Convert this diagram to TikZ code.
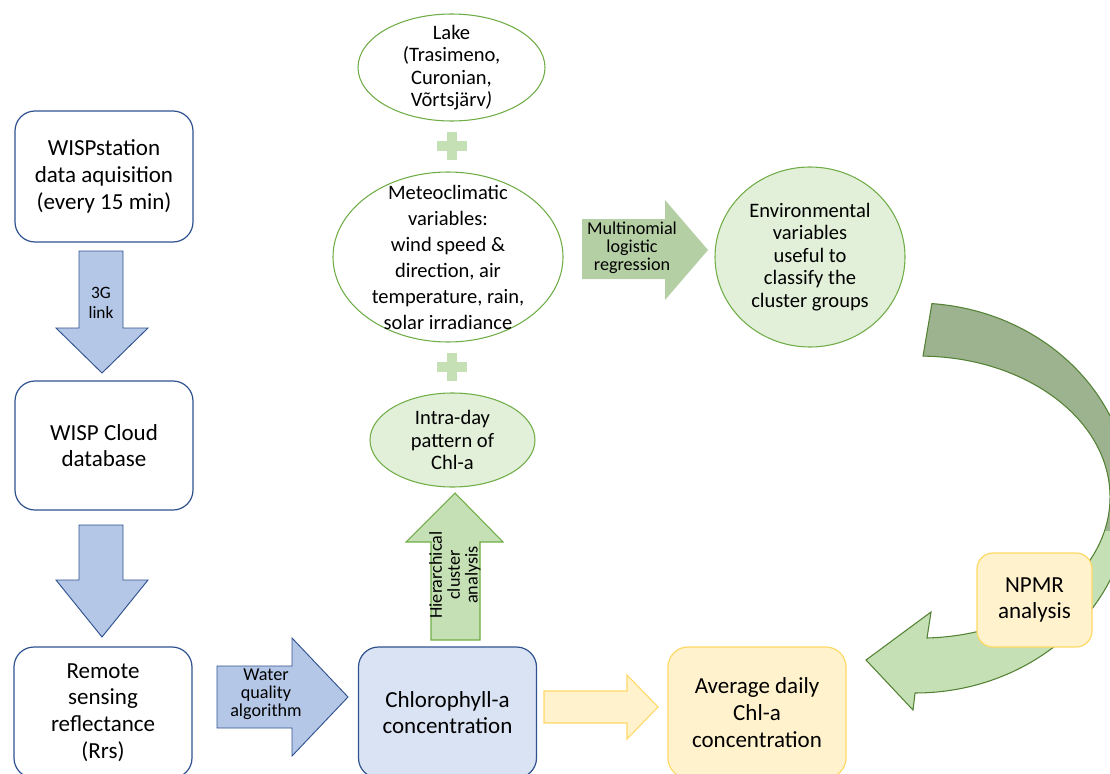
\documentclass[tikz,border=0pt]{standalone}
\usepackage{fontspec}
\setmainfont{Carlito}
\usetikzlibrary{positioning, shapes.geometric}
\definecolor{boxblue}{HTML}{2F528F}
\definecolor{arrblue}{HTML}{B4C7E7}
\definecolor{chlfill}{HTML}{DAE3F3}
\definecolor{grnline}{HTML}{70AD47}
\definecolor{grnfill}{HTML}{E2F0D9}
\definecolor{grnarr}{HTML}{C5E0B4}
\definecolor{grnmid}{HTML}{B5CFA5}
\definecolor{grndark}{HTML}{9DB38F}
\definecolor{grnedge}{HTML}{548235}
\definecolor{yelfill}{HTML}{FFF2CC}
\definecolor{yelline}{HTML}{FFD966}

\newcommand{\tightls}[2]{\fontsize{#1}{#2}\selectfont\lineskiplimit=-100pt\relax}

% curved NPMR arrow, in pixel units
\def\bendpath{(931.9,303.6) arc[start angle=-85.5, end angle=90, x radius=215, y radius=195]
  -- (913,710) -- (866,660) -- (931,612) -- (927,638)
  arc[start angle=87.9, end angle=-89.1, x radius=190, y radius=141] -- cycle}

\begin{document}
\begin{tikzpicture}[x=0.75pt, y=-0.75pt,
      box/.style  = {draw=boxblue, line width=0.9pt, rounded corners=15pt, fill=white,
                     minimum width=133.5pt, minimum height=98.25pt, inner sep=0pt,
                     font=\fontsize{17.25}{20}\selectfont, align=center},
      ybox/.style = {box, draw=yelline, fill=yelfill},
      ell/.style  = {ellipse, draw=grnline, line width=0.8pt, fill=white, inner sep=0pt},
      etxt/.style = {font=\fontsize{15.4}{16.8}\selectfont, align=center, inner sep=0pt},
      barr/.style = {fill=arrblue, draw=boxblue, line width=0.7pt},
      lbl/.style  = {font={\tightls{13.6}{13.4}}, align=center, inner sep=0pt}
    ]
    \useasboundingbox (0,0) rectangle (1110,774);
    \clip (0,0) rectangle (1110,774);

    % left column
    \node[box]                          (station) at (104,176.5) {WISPstation\\data aquisition\\(every 15 min)};
    \node[box, minimum height=96.75pt]  (cloud)   at (104,445.5) {WISP Cloud\\database};
    \node[box]                          (rrs)     at (103,712.5) {Remote\\sensing\\reflectance\\(Rrs)};

    \draw[barr] (79,251) -- (123,251) -- (123,328) -- (148,328) -- (102,373) -- (56,328) -- (79,328) -- cycle;
    \node[font=\fontsize{13}{15}\selectfont, align=center, inner sep=0pt] (link) at (101,303) {3G\\link};
    \draw[barr] (79,525) -- (123,525) -- (123,580) -- (148,580) -- (102,637) -- (56,580) -- (79,580) -- cycle;

    \draw[barr] (217,666) -- (292,666) -- (292,638) -- (348,697) -- (292,756) -- (292,728) -- (217,728) -- cycle;
    \node[lbl] (wqa) at (266,694) {Water\\quality\\algorithm};

    % chlorophyll and daily mean
    \node[box, fill=chlfill]            (chla)    at (447.5,712.5) {Chlorophyll-a\\concentration};
    \draw[fill=yelfill, draw=yelline, line width=0.8pt]
      (544,691) -- (627,691) -- (627,675) -- (658,707) -- (627,739) -- (627,723) -- (544,723) -- cycle;
    \node[ybox]                         (daily)   at (757,712.5) {Average daily\\Chl-a\\concentration};

    % middle column
    \draw[fill=grnarr, draw=grnline, line width=0.8pt]
      (431,640) -- (431,542) -- (406,542) -- (455,493) -- (503,542) -- (480,542) -- (480,640) -- cycle;
    \node[lbl, rotate=90]               (hca)     at (455,575) {Hierarchical\\cluster\\analysis};

    \node[ell, fill=grnfill, minimum width=123.75pt, minimum height=70.5pt] (intraday) at (452.5,440) {};
    \node[etxt] at (intraday) {Intra-day\\pattern of\\Chl-a};

    \node[ell, minimum width=172.5pt, minimum height=127.5pt] (meteo) at (448,257) {};
    \node[etxt, font=\fontsize{15.4}{19.5}\selectfont] at (meteo) {Meteoclimatic\\variables:\\wind speed \&\\direction, air\\temperature, rain,\\solar irradiance};

    \node[ell, minimum width=140.25pt, minimum height=80.25pt] (lake) at (451.5,67.5) {};
    \node[etxt] at (lake) {Lake\\(Trasimeno,\\Curonian,\\Võrtsjärv\textit{)}};

    \foreach \py in {146,367} {
      \fill[grnarr] (437,\py-5) rectangle (467,\py+5);
      \fill[grnarr] (447,\py-14) rectangle (457,\py+14);
    }

    % right part
    \fill[grnmid] (582,219) -- (665,219) -- (665,200) -- (708,250) -- (665,300) -- (665,279) -- (582,279) -- cycle;
    \node[lbl] (mlr) at (632,248) {Multinomial\\logistic\\regression};

    \node[ell, fill=grnfill, minimum width=142.5pt, minimum height=135pt] (envvar) at (810,257) {};
    \node[etxt] at (envvar) {Environmental\\variables\\useful to\\classify the\\cluster groups};

    \fill[grnarr] \bendpath;
    \begin{scope}
      \clip (850,290) rectangle (1110,530);
      \fill[grndark] \bendpath;
    \end{scope}
    \draw[grnedge, line width=0.8pt] \bendpath;

    \node[ybox, rounded corners=12pt, minimum width=86.25pt, minimum height=70.5pt] (npmr) at (1034.5,600) {NPMR\\analysis};
  \end{tikzpicture}
\end{document}
